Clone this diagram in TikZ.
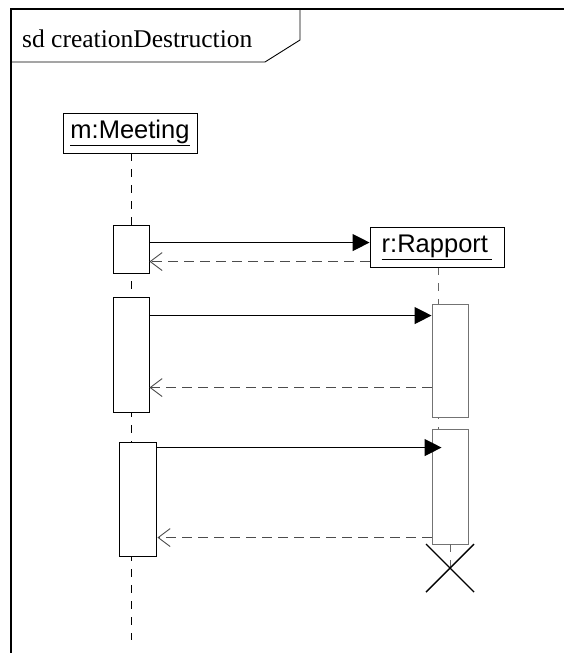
\documentclass[tikz,border=0pt]{standalone}
\usepackage{fontspec}
\setmainfont{Liberation Serif}
\setsansfont{Liberation Sans}
\usetikzlibrary{positioning,arrows.meta}
\tikzset{
	objet/.style={draw=black,fill=white,line width=0.9pt,inner sep=0pt,minimum width=134pt,minimum height=40pt,font=\sffamily\fontsize{25.5}{30}\selectfont},
	activ/.style={draw=black,fill=white,line width=0.9pt,minimum width=36pt,inner sep=0pt},
	activr/.style={activ,draw=black!55},
	vie/.style={line width=0.9pt,dash pattern=on 8pt off 8pt},
	appel/.style={line width=1pt,-{Triangle[length=17pt,width=17pt]}},
	retour/.style={line width=0.9pt,draw=black!70,dash pattern=on 10pt off 6pt,-{Straight Barb[length=12pt,width=18pt]}}
}

\begin{document}
\begin{tikzpicture}[x=1pt,y=-1pt]
	\useasboundingbox (0,0) rectangle (564,653);
	
	%Cadre
	\draw[line width=1.2pt] (564,9) -- (11,9) -- (11,653);
	\draw[line width=0.9pt] (11,9) -- (300,9) -- (300,40) -- (265,62) -- (11,62);
	\node[anchor=base west,inner sep=0pt,font=\fontsize{25.5}{30}\selectfont] (titre) at (22,47) {sd creationDestruction};
	
	%Objets
	\node[objet] (mm) at (130,133) {\underline{m:Meeting}};
	\coordinate (finm) at (131,640);
	\draw[vie] (131,153) -- (finm);
	
	%Lignes de vie r
	\draw[vie,draw=black!60] (438,267) -- (438,430);
	
	%Activations
	\node[activ,minimum height=48pt] (am1) at (131,249) {};
	\node[activ,minimum height=115pt] (am2) at (131,354.5) {};
	\node[activ,minimum width=37pt,minimum height=114pt] (am3) at (137.5,499) {};
	\node[activr,minimum height=113pt] (ar1) at (450,360.5) {};
	\node[activr,minimum height=115pt] (ar2) at (450,486.5) {};
	
	\node[objet] (rr) at (437,247) {\underline{r:Rapport\,}};
	
	%Destruction
	\coordinate (croix) at (450,568);
	\draw[vie,draw=black!60] (ar2.south) -- (croix);
	\draw[line width=1.4pt] (croix) ++(-24,-24) -- ++(48,48);
	\draw[line width=1.4pt] (croix) ++(-24,24) -- ++(48,-48);
	
	%Messages
	\draw[appel] ([yshift=-18pt]am1.north east) -- ([yshift=-18pt]am1.north east -| rr.west);
	\draw[retour] ([yshift=-35pt]rr.north west) -- ([yshift=-35pt]rr.north west -| am1.east);
	
	\draw[appel] ([yshift=-19pt]am2.north east) -- ([yshift=-19pt]am2.north east -| ar1.west);
	\draw[retour] ([yshift=-84pt]ar1.north west) -- ([yshift=-84pt]ar1.north west -| am2.east);
	
	\draw[appel] ([yshift=-6pt]am3.north east) -- ([yshift=-6pt,xshift=10pt]am3.north east -| ar2.west);
	\draw[retour] ([yshift=-109pt]ar2.north west) -- ([yshift=-109pt,xshift=1pt]ar2.north west -| am3.east);
\end{tikzpicture}
\end{document}
